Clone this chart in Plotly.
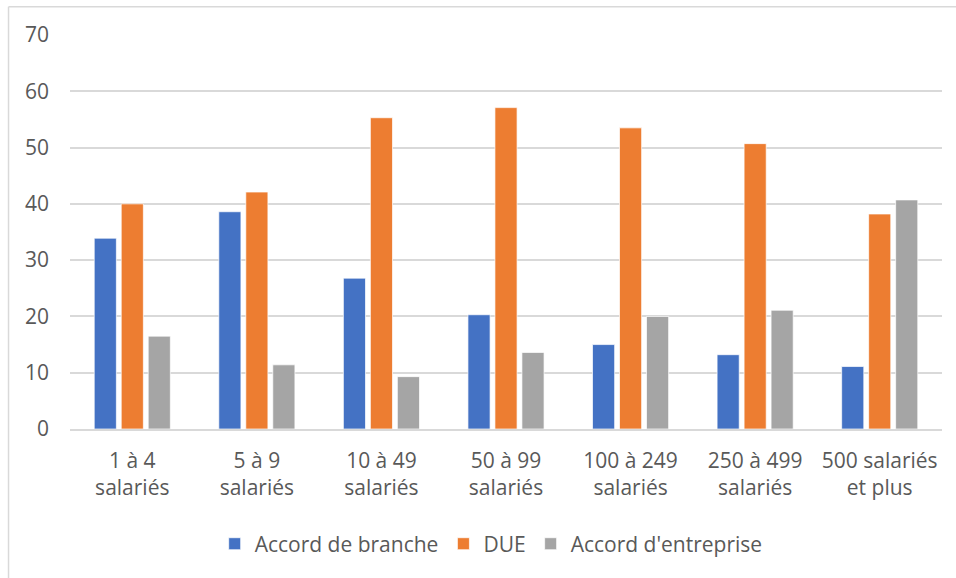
import plotly.graph_objects as go

# Company size classes (x categories)
categories = [
    "1 à 4<br>salariés",
    "5 à 9<br>salariés",
    "10 à 49<br>salariés",
    "50 à 99<br>salariés",
    "100 à 249<br>salariés",
    "250 à 499<br>salariés",
    "500 salariés<br>et plus",
]

# Share (%) per mechanism
accord_branche = [33.9, 38.6, 26.8, 20.3, 15.0, 13.2, 11.1]
due = [40.0, 42.1, 55.3, 57.1, 53.5, 50.7, 38.2]
accord_entreprise = [16.5, 11.4, 9.3, 13.6, 20.0, 21.1, 40.7]

series_names = ["Accord de branche", "DUE", "Accord d'entreprise"]
series_colors = ["#4472C4", "#ED7D31", "#A5A5A5"]

text_color = "#595959"
grid_color = "#D9D9D9"
font_family = "Open Sans, Noto Sans, DejaVu Sans, sans-serif"
font_size = 21

fig = go.Figure()
for name, values, color in zip(series_names, [accord_branche, due, accord_entreprise], series_colors):
    fig.add_trace(go.Bar(
        x=categories,
        y=values,
        name=name,
        marker=dict(color=color, line=dict(color="rgba(255,255,255,0.7)", width=1)),
        hoverinfo="x+y+name",
    ))

fig.update_layout(
    width=956,
    height=578,
    margin=dict(l=70, r=14, t=35, b=149),
    paper_bgcolor="white",
    plot_bgcolor="white",
    barmode="group",
    bargap=0.35,
    bargroupgap=0.18,
    font=dict(family=font_family, size=font_size, color=text_color),
    showlegend=True,
    legend=dict(
        orientation="h",
        x=0.483,
        xanchor="center",
        y=-0.24,
        yanchor="top",
        font=dict(size=font_size, color=text_color),
        itemwidth=30,
        traceorder="normal",
    ),
    xaxis=dict(
        showgrid=False,
        showline=True,
        linecolor=grid_color,
        linewidth=1.5,
        ticks="",
        tickfont=dict(size=font_size, color=text_color),
        ticklabelstandoff=12,
    ),
    yaxis=dict(
        range=[0, 70],
        dtick=10,
        showgrid=True,
        gridcolor=grid_color,
        gridwidth=1.5,
        zeroline=False,
        showline=False,
        ticks="",
        tickfont=dict(size=font_size, color=text_color),
        ticklabelstandoff=20,
    ),
    shapes=[
        # chart frame: left and top edges
        dict(type="line", xref="paper", yref="paper",
             x0=-0.0705, x1=-0.0705, y0=1.072, y1=-0.40,
             line=dict(color=grid_color, width=1.5)),
        dict(type="line", xref="paper", yref="paper",
             x0=-0.0705, x1=1.05, y0=1.072, y1=1.072,
             line=dict(color=grid_color, width=1.5)),
    ],
)

fig.write_html("out.html")
